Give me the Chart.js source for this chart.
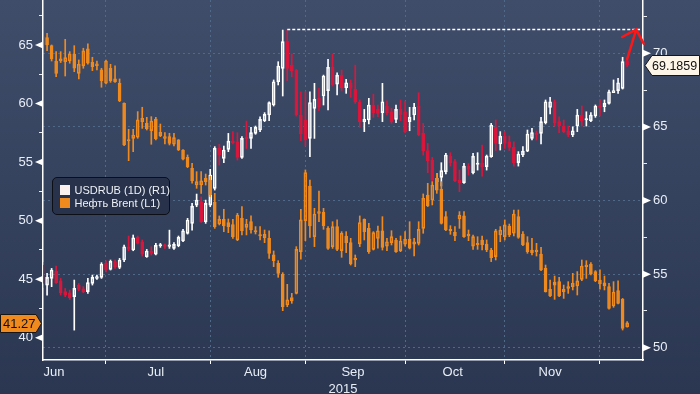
<!DOCTYPE html>
<html lang="ru">
<head>
    <meta charset="UTF-8">
    <title>USDRUB vs Brent</title>
    <script src="https://cdn.jsdelivr.net/npm/chart.js"></script>
    <style>
        body { margin: 0; background: #2b3751; }
        #wrap { position: relative; width: 700px; height: 394px; }
        #legend {
            position: absolute; left: 52px; top: 177px; width: 118px; height: 38px;
            box-sizing: border-box; background: #28334b; border: 1.5px solid #0c0f16;
            border-radius: 5px; padding: 5.5px 0 0 6.5px;
            font: 11px "Liberation Sans", Arial, sans-serif; color: #eef2f7; line-height: 13px;
            white-space: nowrap;
        }
        #legend .sw { display: inline-block; width: 10px; height: 10px; margin-right: 5px; vertical-align: -1px; }
    </style>
</head>
<body>
<div id="wrap">
    <canvas id="chart" width="700" height="394"></canvas>
    <div id="legend">
        <div><span class="sw" style="background:#fdf1ee"></span>USDRUB (1D) (R1)</div>
        <div><span class="sw" style="background:#f08a1e"></span>Нефть Brent (L1)</div>
    </div>
</div>
<script>
// trading days, 11 Jun - 9 Dec 2015
const dates = [
    '2015-06-11','2015-06-12','2015-06-15','2015-06-16','2015-06-17','2015-06-18','2015-06-19','2015-06-22','2015-06-23','2015-06-24',
    '2015-06-25','2015-06-26','2015-06-29','2015-06-30','2015-07-01','2015-07-02','2015-07-03','2015-07-06','2015-07-07','2015-07-08',
    '2015-07-09','2015-07-10','2015-07-13','2015-07-14','2015-07-15','2015-07-16','2015-07-17','2015-07-20','2015-07-21','2015-07-22',
    '2015-07-23','2015-07-24','2015-07-27','2015-07-28','2015-07-29','2015-07-30','2015-07-31','2015-08-03','2015-08-04','2015-08-05',
    '2015-08-06','2015-08-07','2015-08-10','2015-08-11','2015-08-12','2015-08-13','2015-08-14','2015-08-17','2015-08-18','2015-08-19',
    '2015-08-20','2015-08-21','2015-08-24','2015-08-25','2015-08-26','2015-08-27','2015-08-28','2015-08-31','2015-09-01','2015-09-02',
    '2015-09-03','2015-09-04','2015-09-07','2015-09-08','2015-09-09','2015-09-10','2015-09-11','2015-09-14','2015-09-15','2015-09-16',
    '2015-09-17','2015-09-18','2015-09-21','2015-09-22','2015-09-23','2015-09-24','2015-09-25','2015-09-28','2015-09-29','2015-09-30',
    '2015-10-01','2015-10-02','2015-10-05','2015-10-06','2015-10-07','2015-10-08','2015-10-09','2015-10-12','2015-10-13','2015-10-14',
    '2015-10-15','2015-10-16','2015-10-19','2015-10-20','2015-10-21','2015-10-22','2015-10-23','2015-10-26','2015-10-27','2015-10-28',
    '2015-10-29','2015-10-30','2015-11-02','2015-11-03','2015-11-04','2015-11-05','2015-11-06','2015-11-09','2015-11-10','2015-11-11',
    '2015-11-12','2015-11-13','2015-11-16','2015-11-17','2015-11-18','2015-11-19','2015-11-20','2015-11-23','2015-11-24','2015-11-25',
    '2015-11-26','2015-11-27','2015-11-30','2015-12-01','2015-12-02','2015-12-03','2015-12-04','2015-12-07','2015-12-08','2015-12-09'
];
const monthNames = ['Jan','Feb','Mar','Apr','May','Jun','Jul','Aug','Sep','Oct','Nov','Dec'];

// Brent (left axis)
const brentOpen = [
    65.71,65.63,64.94,63.63,63.63,63.58,63.63,64.23,62.58,63.21,64.66,63.52,63.24,62.87,61.73,63.01,61.87,61.73,60.02,56.80,
    57.03,57.12,58.45,58.31,57.68,58.68,57.26,57.03,57.17,56.52,56.89,56.03,55.41,54.47,53.04,53.04,53.61,53.47,51.56,49.71,
    50.11,49.83,49.66,48.35,50.20,49.43,49.91,49.14,48.78,48.55,48.49,47.07,46.36,45.42,42.80,43.44,43.79,47.35,50.00,52.96,
    48.63,50.62,50.71,49.34,47.78,49.49,47.44,48.69,48.12,46.78,48.01,50.11,49.34,47.55,48.49,49.14,47.83,48.12,48.35,47.44,
    48.00,48.43,48.00,48.06,49.34,52.19,51.76,53.61,52.70,50.34,49.26,49.00,50.14,50.40,48.86,47.83,48.06,48.35,48.00,47.49,
    46.93,48.77,48.64,49.54,48.92,50.34,48.86,48.12,47.49,47.35,47.15,45.93,44.14,44.76,44.79,43.94,44.36,44.36,44.42,44.99,
    46.07,46.30,45.65,44.93,44.70,44.36,42.71,44.02,43.28,40.92
];
const brentHigh = [
    66.34,66.00,65.00,64.43,64.43,65.48,64.43,64.94,63.72,64.72,65.09,63.95,63.63,63.01,63.72,63.35,63.21,62.10,60.05,57.80,
    57.80,59.31,59.68,58.82,58.88,58.82,58.25,57.51,57.46,57.46,56.92,56.06,55.61,54.89,54.18,54.18,53.98,53.80,52.33,50.40,
    50.97,50.14,50.11,50.62,51.20,50.11,50.40,49.49,49.49,49.20,49.14,47.41,46.58,45.56,44.56,43.79,47.78,50.97,54.33,53.47,
    51.05,52.53,51.05,49.49,49.91,50.06,49.06,49.06,48.49,47.07,50.40,50.15,49.77,49.06,49.54,50.34,48.49,49.14,48.49,48.69,
    49.06,49.91,48.49,49.91,52.28,53.19,53.33,54.04,53.33,50.77,49.57,49.49,50.77,50.77,49.20,48.77,48.63,48.69,48.35,47.64,
    49.26,49.49,50.06,49.71,50.91,50.91,49.06,48.63,48.49,48.06,47.72,46.21,44.93,45.27,45.16,44.50,44.79,45.50,45.65,46.64,
    46.58,46.41,45.73,45.79,45.27,44.65,44.79,44.87,43.36,41.38
];
const brentLow = [
    64.90,64.52,63.63,62.30,63.50,62.35,63.44,62.72,62.10,63.01,63.35,62.81,62.87,61.39,61.67,61.81,61.81,60.16,56.40,55.12,
    55.89,57.03,57.88,57.74,56.52,56.89,57.17,56.55,56.46,56.38,55.98,55.18,54.52,53.19,52.76,52.33,53.04,52.05,49.34,49.63,
    49.06,48.97,48.49,48.29,48.78,48.78,48.92,48.86,48.35,48.12,46.78,46.07,45.16,42.31,42.65,42.94,43.74,46.70,48.29,48.57,
    47.78,49.91,49.26,47.55,47.63,47.44,46.87,47.27,46.21,46.07,47.78,48.35,47.21,47.49,47.64,47.49,47.44,47.92,47.29,47.35,
    47.83,47.58,46.98,47.92,48.92,51.20,51.34,52.33,49.71,49.14,48.83,48.29,49.34,48.57,48.29,47.55,47.55,47.49,47.35,46.50,
    46.64,48.20,48.35,48.63,48.69,48.49,47.86,47.21,47.07,46.98,45.73,43.90,43.51,43.28,43.51,43.36,43.79,44.08,43.65,44.87,
    45.07,45.36,44.79,44.14,44.08,42.43,42.60,42.88,40.66,40.90
];
const brentClose = [
    65.00,65.00,63.81,62.58,63.81,63.92,64.23,63.01,63.35,64.49,63.44,63.15,63.38,61.95,63.63,61.93,62.10,60.22,56.46,56.89,
    57.31,58.60,58.74,57.85,58.51,56.97,57.54,57.17,56.60,57.09,56.03,55.24,54.61,53.41,53.33,53.39,53.33,52.19,49.49,50.11,
    49.54,49.49,48.63,50.48,49.14,49.71,49.20,49.03,48.69,48.83,47.20,46.58,45.50,42.65,43.23,43.14,47.55,50.06,54.10,49.54,
    50.57,50.77,49.57,47.63,49.49,47.55,48.92,48.12,46.30,46.64,49.83,49.06,47.35,48.97,49.14,47.72,48.20,48.63,47.35,48.26,
    48.40,47.64,48.20,49.26,51.91,51.25,53.04,52.61,49.77,49.20,49.14,48.69,50.48,48.63,48.69,48.63,47.92,47.92,47.49,46.84,
    49.12,49.20,49.64,48.78,50.57,48.57,47.92,47.35,47.27,47.49,45.79,43.94,43.57,44.50,43.57,44.14,44.22,44.65,44.85,46.13,
    46.21,45.45,44.87,44.59,44.42,42.51,43.91,42.94,40.80,41.27
];

// USDRUB (right axis)
const usdOpen = [
    55.62,54.26,54.71,55.21,54.55,53.81,53.74,53.47,54.26,54.01,53.81,54.37,54.71,54.78,55.73,55.32,55.85,55.46,55.96,56.86,
    56.64,57.50,57.20,56.18,56.57,56.36,56.91,56.98,56.89,56.75,56.93,57.25,57.77,58.45,59.69,59.92,58.56,59.69,60.83,63.54,
    62.86,63.48,64.04,63.99,62.93,64.27,64.22,64.56,64.79,65.42,65.81,66.49,68.07,68.98,70.83,69.20,68.86,65.81,65.47,64.22,
    66.26,66.94,67.10,67.46,69.05,67.91,68.52,67.66,67.96,67.55,66.71,65.36,65.47,66.49,66.19,65.97,66.42,66.03,65.51,66.19,
    66.03,65.36,65.81,66.42,64.56,63.39,62.75,61.28,61.57,61.96,63.02,62.64,61.39,61.21,62.34,61.89,62.45,62.52,62.30,62.98,
    64.97,63.84,64.38,63.99,63.61,62.57,63.09,63.36,64.22,64.56,64.56,65.29,66.33,66.71,65.36,65.06,64.74,64.45,65.06,65.81,
    65.47,65.42,65.74,66.42,66.37,66.60,67.33,67.46,67.62,69.50
];
const usdHigh = [
    55.80,55.05,55.39,55.55,54.71,54.03,53.92,54.60,54.37,54.15,54.71,54.94,54.94,55.78,55.91,55.96,55.96,56.07,56.98,57.59,
    57.66,57.59,57.32,56.68,56.86,57.09,57.09,57.05,57.99,57.14,57.59,58.04,58.79,59.81,60.44,60.26,60.03,62.12,63.66,63.82,
    63.70,64.56,64.68,64.61,64.34,65.40,64.97,65.06,65.69,65.97,66.71,68.19,69.43,71.58,71.63,69.95,68.91,67.39,67.39,67.39,
    67.96,67.62,68.52,69.59,69.95,68.68,68.86,68.23,68.19,69.20,66.83,66.19,66.94,67.23,66.49,67.96,66.78,66.26,66.49,66.83,
    66.76,66.33,66.60,67.32,65.24,63.88,62.93,61.85,62.57,63.20,63.25,62.80,62.07,62.52,62.52,63.20,63.25,63.77,63.09,65.24,
    65.47,64.68,64.68,64.38,63.99,63.32,63.66,64.79,64.90,64.72,65.65,66.83,67.01,66.83,65.69,65.47,65.06,65.01,66.19,66.42,
    66.03,65.97,66.49,66.87,66.83,67.51,68.19,68.30,69.73,69.60
];
const usdLow = [
    54.10,53.58,54.15,54.37,53.58,53.47,53.28,51.20,53.87,53.74,53.69,54.26,54.64,54.71,55.16,55.28,55.39,55.37,55.85,56.59,
    56.59,57.05,56.23,56.14,56.30,56.30,56.82,56.75,56.75,56.68,56.86,57.20,57.72,57.99,59.58,58.52,58.45,59.58,60.71,62.41,
    62.57,63.32,63.84,62.75,62.86,63.54,63.54,64.50,64.68,65.36,65.42,66.42,67.85,67.10,68.14,68.41,65.74,64.06,63.70,62.98,
    64.22,66.10,66.49,66.15,67.78,67.17,67.44,67.28,67.01,66.60,64.97,64.68,65.20,65.65,65.70,65.36,65.81,65.24,65.29,65.42,
    64.61,64.74,65.47,64.40,63.09,61.89,61.35,61.05,60.99,61.80,62.34,61.28,60.60,61.17,61.73,61.80,62.07,61.66,62.07,62.93,
    63.39,63.43,63.54,63.39,62.34,62.34,62.98,63.32,64.11,64.11,63.84,65.20,65.88,65.06,64.61,64.61,64.34,64.34,64.68,65.06,
    65.06,65.36,65.65,65.74,66.03,66.55,67.33,67.28,67.57,69.10
];
const usdClose = [
    54.37,54.78,55.28,54.42,53.74,53.58,53.40,54.03,53.96,53.81,54.42,54.78,54.83,55.69,55.28,55.87,55.51,55.96,56.86,56.68,
    57.47,57.09,56.36,56.57,56.41,56.95,56.98,56.89,56.98,57.02,57.50,57.95,58.68,59.62,60.03,58.56,59.81,61.73,63.54,63.09,
    63.43,64.04,63.93,62.93,64.22,64.20,64.61,64.97,65.51,65.85,66.65,68.07,69.14,70.79,68.98,68.82,65.81,64.52,64.11,66.65,
    66.87,66.37,68.46,69.05,67.85,68.52,67.66,68.00,67.62,66.71,65.36,65.51,66.49,65.97,65.92,66.71,65.97,65.36,66.19,65.81,
    64.68,65.65,66.33,64.45,63.39,62.71,61.39,61.50,62.03,63.09,62.57,61.35,61.21,62.34,62.12,63.02,62.52,62.30,63.02,65.13,
    63.88,64.38,63.88,63.61,62.57,63.16,63.36,64.52,64.61,64.45,65.36,66.71,66.71,65.29,65.06,64.68,64.45,64.74,65.81,65.42,
    65.54,65.81,66.42,66.33,66.60,67.39,67.46,68.00,69.43,69.1859
];

const brentTicks = [40, 42.5, 45, 47.5, 50, 52.5, 55, 57.5, 60, 62.5, 65, 67.5];
const usdTicks = [50, 52.5, 55, 57.5, 60, 62.5, 65, 67.5, 70, 72.5];

const ORANGE = '#f08a1e';
const RED = '#d9163c';
const WHITE = '#ffffff';
const GRID = '#4f6a89';
const TEXT = '#e8eef6';
const FONT = { family: '"Liberation Sans", Arial, sans-serif', size: 13 };

// month boundaries and month label positions from the dates
const idx = dates.map((d, i) => i);
const months = [];
dates.forEach((d, i) => {
    const m = +d.slice(5, 7) - 1;
    if (!months.length || months[months.length - 1].m !== m) months.push({ m, first: i, last: i });
    else months[months.length - 1].last = i;
});
const monthStarts = months.slice(1).map(g => g.first);
const monthLabels = months.filter(g => g.last - g.first >= 10).map((g, i) =>
    ({ text: monthNames[g.m], at: i === 0 && g.first === 0 ? g.last - 10.5 : (g.first + g.last) / 2 }));

const isUp = (o, c, i) => c[i] >= o[i];
const body = (o, c) => o.map((v, i) => [v, c[i]]);
const upperWick = (o, h, c) => h.map((v, i) => [Math.max(o[i], c[i]), v]);
const lowerWick = (o, l, c) => l.map((v, i) => [v, Math.min(o[i], c[i])]);

function candleSets(o, h, l, c, color, downFill, yAxisID, order) {
    const base = { yAxisID, xAxisID: 'x', grouped: false, borderSkipped: false };
    const lineColor = color === WHITE ? ctx => isUp(o, c, ctx.dataIndex) ? WHITE : downFill : color;
    return [
        Object.assign({}, base, {
            data: body(o, c), barThickness: 3, minBarLength: 1.5, borderWidth: 1, order,
            borderColor: lineColor,
            backgroundColor: ctx => isUp(o, c, ctx.dataIndex) ? 'rgba(0,0,0,0)' : downFill
        }),
        Object.assign({}, base, {
            data: upperWick(o, h, c), barThickness: 1, borderWidth: 0, order: order + 1,
            backgroundColor: lineColor
        }),
        Object.assign({}, base, {
            data: lowerWick(o, l, c), barThickness: 1, borderWidth: 0, order: order + 1,
            backgroundColor: lineColor
        })
    ];
}

const decor = {
    id: 'decor',
    beforeDraw(chart) {
        const { ctx, width, height } = chart;
        const g = ctx.createLinearGradient(0, 0, 0, height);
        g.addColorStop(0, '#404d6a');
        g.addColorStop(0.5, '#35425e');
        g.addColorStop(1, '#2b3751');
        ctx.save();
        ctx.fillStyle = g;
        ctx.fillRect(0, 0, width, height);
        ctx.restore();
    },
    afterDraw(chart) {
        const { ctx, chartArea: a, scales } = chart;
        const x = scales.x, yL = scales.yL, yR = scales.yR;
        ctx.save();

        // triangles at labelled ticks
        ctx.fillStyle = WHITE;
        brentTicks.filter(v => v % 5 === 0).forEach(v => {
            const y = yL.getPixelForValue(v);
            ctx.beginPath();
            ctx.moveTo(a.left, y - 3.5); ctx.lineTo(a.left, y + 3.5); ctx.lineTo(a.left - 8, y);
            ctx.closePath(); ctx.fill();
        });
        usdTicks.filter(v => v % 5 === 0).forEach(v => {
            const y = yR.getPixelForValue(v);
            ctx.beginPath();
            ctx.moveTo(a.right, y - 3.5); ctx.lineTo(a.right, y + 3.5); ctx.lineTo(a.right + 8, y);
            ctx.closePath(); ctx.fill();
        });

        // dotted line at the USDRUB high
        const peak = Math.max(...usdHigh);
        const peakIdx = usdHigh.indexOf(peak);
        const py = Math.round(yR.getPixelForValue(peak)) + 0.5;
        ctx.strokeStyle = WHITE;
        ctx.lineWidth = 1.5;
        ctx.setLineDash([3, 2]);
        ctx.beginPath();
        ctx.moveTo(x.getPixelForValue(peakIdx), py);
        ctx.lineTo(a.right - 3, py);
        ctx.stroke();
        ctx.setLineDash([]);

        // red arrow from last candle to the high level
        const last = usdClose.length - 1;
        const sx = x.getPixelForValue(last), sy = yR.getPixelForValue(usdHigh[last]);
        const tx = x.getPixelForValue(last + 2), ty = py;
        const ang = Math.atan2(ty - sy, tx - sx);
        ctx.strokeStyle = '#ff1717';
        ctx.lineWidth = 2.5;
        ctx.lineCap = 'round';
        ctx.beginPath();
        ctx.moveTo(sx, sy); ctx.lineTo(tx, ty);
        ctx.moveTo(tx - 16 * Math.cos(ang - Math.PI / 4), ty - 16 * Math.sin(ang - Math.PI / 4));
        ctx.lineTo(tx, ty);
        ctx.lineTo(tx - 16 * Math.cos(ang + Math.PI / 4), ty - 16 * Math.sin(ang + Math.PI / 4));
        ctx.stroke();

        // last value tags
        ctx.lineWidth = 1;
        ctx.lineCap = 'butt';
        ctx.textBaseline = 'middle';
        ctx.textAlign = 'left';
        ctx.strokeStyle = '#161616';
        ctx.font = '13px "Liberation Sans", Arial, sans-serif';
        const by = Math.round(yL.getPixelForValue(brentClose[brentClose.length - 1])) + 0.5;
        ctx.fillStyle = ORANGE;
        ctx.beginPath();
        ctx.moveTo(0.5, by - 9); ctx.lineTo(36, by - 9); ctx.lineTo(41.5, by);
        ctx.lineTo(36, by + 9); ctx.lineTo(0.5, by + 9); ctx.closePath();
        ctx.fill(); ctx.stroke();
        ctx.fillStyle = '#111';
        ctx.fillText(brentClose[brentClose.length - 1].toFixed(2), 3, by + 1);

        ctx.font = '12.5px "Liberation Sans", Arial, sans-serif';
        const uy = Math.round(yR.getPixelForValue(usdClose[last])) + 0.5;
        ctx.fillStyle = '#fdf5e8';
        ctx.beginPath();
        ctx.moveTo(a.right + 2, uy); ctx.lineTo(a.right + 9, uy - 10); ctx.lineTo(699.5, uy - 10);
        ctx.lineTo(699.5, uy + 10); ctx.lineTo(a.right + 9, uy + 10); ctx.closePath();
        ctx.fill(); ctx.stroke();
        ctx.fillStyle = '#111';
        ctx.fillText(usdClose[last].toFixed(4), a.right + 9, uy + 1);
        ctx.restore();
    }
};

new Chart(document.getElementById('chart'), {
    type: 'bar',
    data: {
        labels: idx,
        datasets: [
            ...candleSets(brentOpen, brentHigh, brentLow, brentClose, ORANGE, ORANGE, 'yL', 0),
            ...candleSets(usdOpen, usdHigh, usdLow, usdClose, WHITE, RED, 'yR', 2)
        ]
    },
    options: {
        responsive: false,
        animation: false,
        layout: { padding: 0 },
        plugins: { legend: { display: false }, tooltip: { enabled: false } },
        scales: {
            x: {
                type: 'linear', position: 'bottom', min: 0.1, max: 132.5, offset: false,
                afterBuildTicks: s => {
                    s.ticks = monthStarts.map(v => ({ value: v })).concat(monthLabels.map(m => ({ value: m.at })));
                },
                ticks: {
                    autoSkip: false, maxRotation: 0, color: TEXT, font: FONT, padding: 1,
                    callback: v => { const m = monthLabels.find(l => l.at === v); return m ? m.text : ''; }
                },
                grid: {
                    offset: false, lineWidth: 1, tickLength: 4,
                    color: c => c.tick && monthStarts.includes(c.tick.value) ? GRID : 'rgba(0,0,0,0)',
                    tickColor: c => c.tick && monthStarts.includes(c.tick.value) ? WHITE : 'rgba(0,0,0,0)'
                },
                border: { color: WHITE, width: 1.5, dash: [2, 3] },
                title: { display: true, text: '2015', color: TEXT, font: FONT, padding: { top: 0, bottom: -3 } },
                afterFit: s => { s.height = 34; s.paddingLeft = 0; s.paddingRight = 0; }
            },
            yL: {
                position: 'left', min: 38.1, max: 68.84,
                afterBuildTicks: s => { s.ticks = brentTicks.map(v => ({ value: v })); },
                ticks: { color: TEXT, font: FONT, padding: 6, callback: v => v % 5 === 0 ? v : '' },
                grid: {
                    drawOnChartArea: false, tickLength: 4, lineWidth: 1,
                    tickColor: c => c.tick && c.tick.value % 5 === 0 ? 'rgba(0,0,0,0)' : TEXT
                },
                border: { color: WHITE, width: 1.5 },
                afterFit: s => { s.width = 43; s.paddingTop = 0; s.paddingBottom = 0; }
            },
            yR: {
                position: 'right', min: 49.17, max: 73.62,
                afterBuildTicks: s => { s.ticks = usdTicks.map(v => ({ value: v })); },
                ticks: { color: TEXT, font: FONT, padding: 6, callback: v => v % 5 === 0 ? v : '' },
                grid: {
                    lineWidth: 1, tickLength: 4,
                    color: c => c.tick && c.tick.value % 5 === 0 ? GRID : 'rgba(0,0,0,0)',
                    tickColor: c => c.tick && c.tick.value % 5 === 0 ? 'rgba(0,0,0,0)' : TEXT
                },
                border: { color: WHITE, width: 1.5, dash: [2, 3] },
                afterFit: s => { s.width = 57; s.paddingTop = 0; s.paddingBottom = 0; }
            }
        }
    },
    plugins: [decor]
});
</script>
</body>
</html>
